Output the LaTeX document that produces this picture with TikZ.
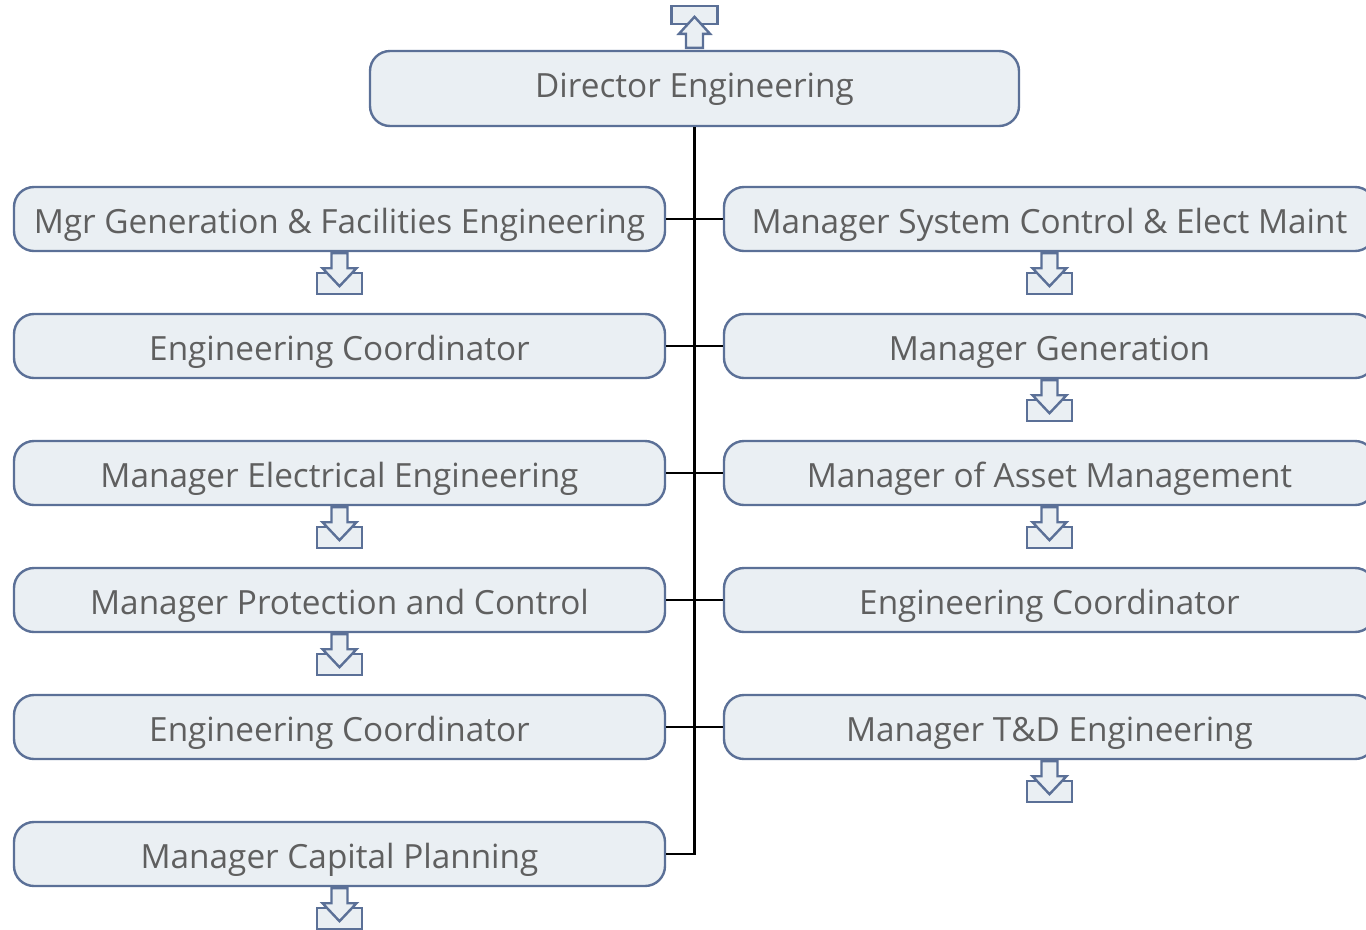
\documentclass[tikz,border=0pt]{standalone}
\usepackage{fontspec}
\setmainfont{Open Sans}
\usepackage{xcolor}
\usetikzlibrary{positioning}
\definecolor{unitedge}{HTML}{5B7097}
\definecolor{unitfill}{HTML}{EAEFF3}
\definecolor{unittext}{HTML}{5F5F5F}

% drill-down mark under a unit
\newcommand{\drilldown}[1]{%
  \begin{scope}[shift={(#1.south)}]
    \draw[drillmark] (-22.5,21) rectangle (22.5,42);
    \draw[drillmark] (-8,1) -- (8,1) -- (8,16) -- (17,16) -- (0,34)
      -- (-17,16) -- (-8,16) -- cycle;
  \end{scope}}

\begin{document}
\begin{tikzpicture}[
  x=0.75pt,y=-0.75pt,
  unit/.style={draw=unitedge,fill=unitfill,line width=1.8pt,
    rounded corners=15pt,minimum width=488.25pt,minimum height=48pt,
    text=unittext,font=\fontsize{25}{30}\selectfont,inner sep=0pt,
    text height=21pt,text depth=0pt},
  drillmark/.style={draw=unitedge,fill=unitfill,line width=1.8pt},
  tie/.style={draw=black,line width=1.8pt}
]
  \useasboundingbox (0,0) rectangle (1366,929);

  \node[unit,minimum width=486.75pt,minimum height=56.25pt,text height=12.75pt]
    (director) at (694.5,88.5) {Director Engineering};

  % left column
  \node[unit] (genfac) at (339.5,219) {Mgr Generation \& Facilities Engineering};
  \node[unit,below=45.45pt of genfac] (coordA) {Engineering Coordinator};
  \node[unit,below=45.45pt of coordA] (elec) {Manager Electrical Engineering};
  \node[unit,below=45.45pt of elec] (protect) {Manager Protection and Control};
  \node[unit,below=45.45pt of protect] (coordB) {Engineering Coordinator};
  \node[unit,below=45.45pt of coordB] (capital) {Manager Capital Planning};

  % right column
  \node[unit,right=42.45pt of genfac] (sysctl) {Manager System Control \& Elect Maint};
  \node[unit,right=42.45pt of coordA] (generation) {Manager Generation};
  \node[unit,right=42.45pt of elec] (asset) {Manager of Asset Management};
  \node[unit,right=42.45pt of protect] (coordC) {Engineering Coordinator};
  \node[unit,right=42.45pt of coordB] (tnd) {Manager T\&D Engineering};

  % reporting lines
  \draw[tie] (director.south) |- (capital.east);
  \draw[tie] (genfac.east) -- (sysctl.west);
  \draw[tie] (coordA.east) -- (generation.west);
  \draw[tie] (elec.east) -- (asset.west);
  \draw[tie] (protect.east) -- (coordC.west);
  \draw[tie] (coordB.east) -- (tnd.west);

  % drill-up mark
  \begin{scope}[shift={(director.north)}]
    \draw[drillmark] (-23,-44) rectangle (23,-26);
    \draw[drillmark] (-8.5,-2) -- (8.5,-2) -- (8.5,-16) -- (15.5,-16) -- (0,-33)
      -- (-15.5,-16) -- (-8.5,-16) -- cycle;
  \end{scope}

  \drilldown{genfac}
  \drilldown{elec}
  \drilldown{protect}
  \drilldown{capital}
  \drilldown{sysctl}
  \drilldown{generation}
  \drilldown{asset}
  \drilldown{tnd}
\end{tikzpicture}
\end{document}
